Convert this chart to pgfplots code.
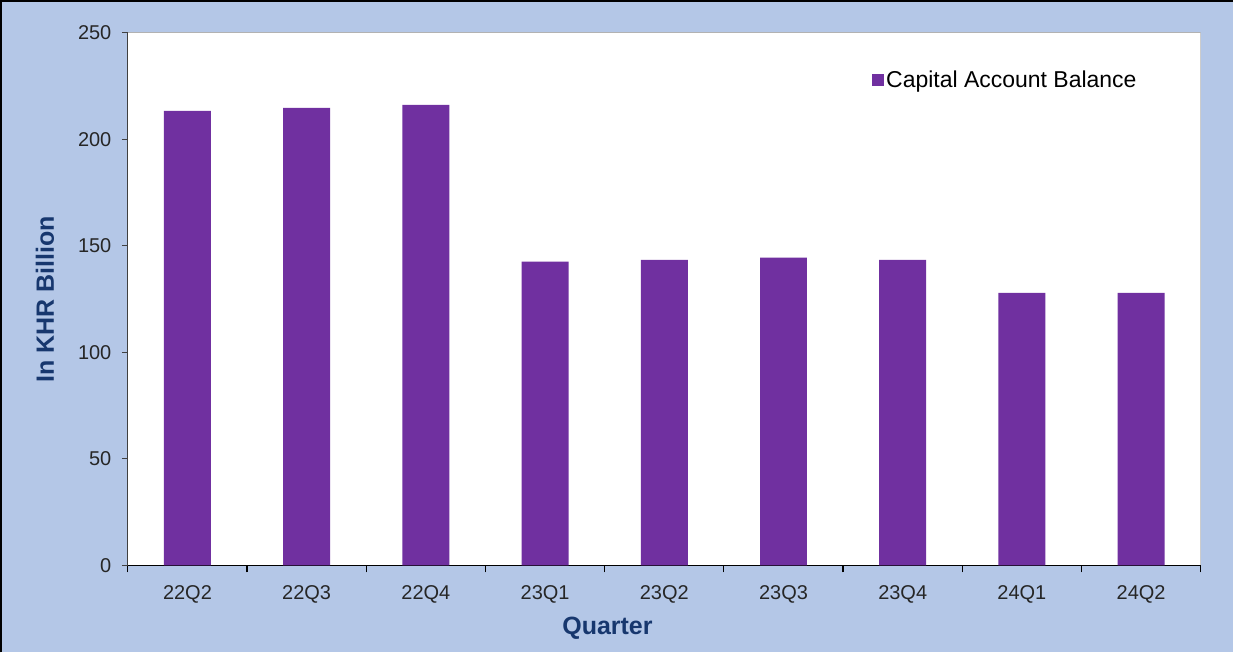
\documentclass[border=0pt]{standalone}
\usepackage{pgfplots}
\pgfplotsset{compat=1.18}
\usepackage{fontspec}
\setmainfont{Liberation Sans}
\definecolor{bgblue}{RGB}{180,199,231}
\definecolor{barpurple}{RGB}{112,48,160}
\definecolor{labnavy}{RGB}{23,55,110}

\begin{document}
\begin{tikzpicture}[x=1pt,y=1pt]
% outer chart area
\fill[bgblue] (-128,-87) rectangle (1106,566);
\draw[black,line width=2.5pt] (-126.75,-87) -- (-126.75,564.75) -- (1106,564.75);
\begin{axis}[
    at={(0,0)}, anchor=south west,
    scale only axis, width=1074pt, height=533pt,
    axis background/.style={fill=white},
    axis x line*=bottom, axis y line*=left,
    x axis line style={black, line width=1.6pt, -},
    y axis line style={black!75, line width=1pt, -},
    xmin=-0.5, xmax=8.5, ymin=0, ymax=250,
    ytick={0,50,...,250},
    xtick={0,...,8},
    xticklabels={22Q2,22Q3,22Q4,23Q1,23Q2,23Q3,23Q4,24Q1,24Q2},
    minor xtick={-0.5,0.5,...,8.5},
    major x tick style={draw=none},
    minor x tick style={black, line width=1.2pt},
    y tick style={black!75, line width=1pt},
    tick align=outside,
    major tick length=6pt, minor tick length=7pt,
    /pgf/number format/assume math mode=true,
    ticklabel style={font=\fontsize{20}{22}\selectfont, text=black!85},
    xticklabel style={yshift=-11pt},
    yticklabel style={xshift=-7pt},
    ybar, bar width=47pt,
    xlabel={Quarter}, ylabel={In KHR Billion},
    label style={font=\bfseries\fontsize{25}{27}\selectfont, text=labnavy},
    xlabel style={at={(axis description cs:0.447,-0.1182)}, anchor=center},
    ylabel style={at={(axis description cs:-0.0773,0.5)}, anchor=center},
    legend style={at={(rel axis cs:0.945,0.912)}, anchor=east, draw=none, fill=none,
        font=\fontsize{23}{25}\selectfont, legend cell align=left},
    legend image code/.code={\fill[barpurple] (0pt,-6pt) rectangle (12pt,6pt);},
]
\addplot[fill=barpurple, draw=none] coordinates {
    (0,213.4) (1,214.8) (2,216.2) (3,142.6) (4,143.5)
    (5,144.5) (6,143.5) (7,128.0) (8,128.0)};
\addlegendentry{Capital Account Balance}
\draw[black!30, line width=1pt] (rel axis cs:0,1) -- (rel axis cs:1,1) -- (rel axis cs:1,0);
\end{axis}
\end{tikzpicture}
\end{document}
